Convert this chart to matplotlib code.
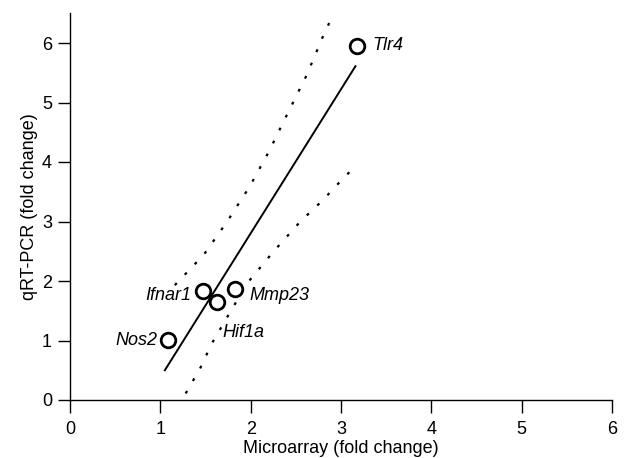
import numpy as np
import matplotlib
matplotlib.use("Agg")
import matplotlib.pyplot as plt

plt.rcParams['font.family'] = ['Liberation Sans', 'DejaVu Sans']

# genes: microarray vs qRT-PCR fold change
genes = ["Tlr4", "Ifnar1", "Hif1a", "Mmp23", "Nos2"]
microarray = [3.18, 1.47, 1.63, 1.83, 1.08]
qrtpcr = [5.95, 1.83, 1.65, 1.87, 1.01]

# regression line (end points)
fit_x = [1.05, 3.16]
fit_y = [0.50, 5.61]

# confidence band
upper_x = [1.16, 1.48, 1.74, 1.99, 2.20, 2.42, 2.62, 2.80, 2.92]
upper_y = [1.93, 2.44, 3.00, 3.59, 4.17, 4.85, 5.46, 6.11, 6.50]
lower_x = [1.28, 1.44, 1.57, 1.72, 1.96, 2.25, 2.55, 2.80, 2.99, 3.10]
lower_y = [0.11, 0.53, 0.95, 1.34, 1.96, 2.49, 3.00, 3.36, 3.67, 3.84]

# label offsets in points (dx, dy, ha)
label_pos = {
    "Tlr4": (11, 0.5, "left"),
    "Ifnar1": (-8.5, -3.5, "right"),
    "Mmp23": (10.5, -5, "left"),
    "Hif1a": (4, -22, "left"),
    "Nos2": (-7, -0.5, "right"),
}

fig = plt.figure(figsize=(6.24, 4.58), dpi=100)
ax = fig.add_axes([70/624, 1-400/458, 542/624, (400-13.25)/458])

dots = (0, (1.3, 5.2))
ax.plot(upper_x, upper_y, color="black", lw=1.6, linestyle=dots)
ax.plot(lower_x, lower_y, color="black", lw=1.6, linestyle=dots)
ax.plot(fit_x, fit_y, color="black", lw=1.4)

ax.plot(microarray, qrtpcr, "o", ms=10.5, mfc="white", mec="black", mew=2, zorder=5)

for g, x, y in zip(genes, microarray, qrtpcr):
    dx, dy, ha = label_pos[g]
    ax.annotate(g, (x, y), xytext=(dx, dy), textcoords="offset points",
                ha=ha, va="center", fontsize=13, style="italic")

ax.set_xlim(0, 6)
ax.set_ylim(0, 6.5)
ax.set_xticks(range(0, 7))
ax.set_yticks(range(0, 7))
ax.spines['top'].set_visible(False)
ax.spines['right'].set_visible(False)
for s in ['left', 'bottom']:
    ax.spines[s].set_linewidth(1.0)
ax.tick_params(axis='x', direction='out', length=9, width=1.0, pad=6, labelsize=13)
ax.tick_params(axis='y', direction='out', length=9, width=1.0, pad=4, labelsize=13)

ax.set_xlabel("Microarray (fold change)", fontsize=13, labelpad=1.5)
ax.set_ylabel("qRT-PCR (fold change)", fontsize=13, labelpad=3)

fig.savefig("out.png", dpi=100)
